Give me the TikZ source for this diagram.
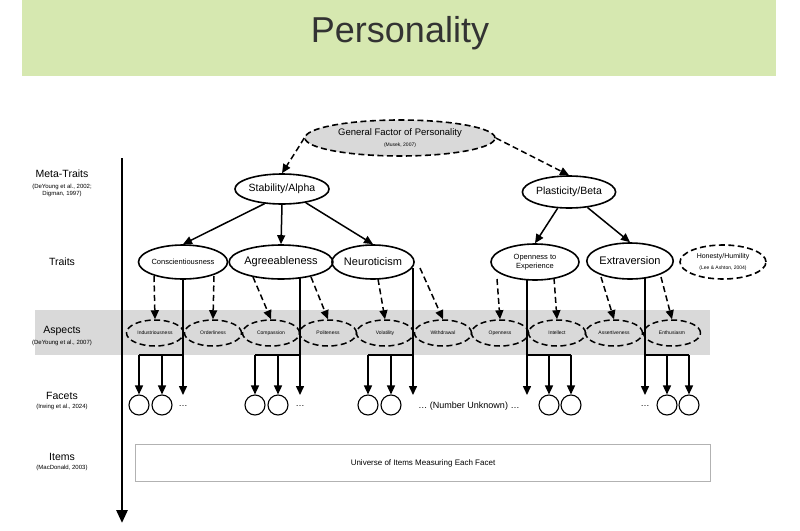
\documentclass[tikz,border=0pt]{standalone}
\usepackage{fontspec}
\setmainfont{Liberation Sans}
\usetikzlibrary{shapes.geometric,arrows.meta}
\begin{document}
\begin{tikzpicture}[x=1pt,y=-1pt,
 el/.style={ellipse,draw,line width=1.6pt,inner sep=0pt,align=center},
 asp/.style={ellipse,draw,line width=1.5pt,dash pattern=on 6pt off 3.5pt,minimum width=57pt,minimum height=26pt,inner sep=0pt,font=\fontsize{5}{6}\selectfont},
 sa/.style={line width=1.5pt,-{Triangle[length=9pt,width=8pt]}},
 da/.style={line width=1.5pt,dash pattern=on 6pt off 3.5pt,-{Triangle[length=9pt,width=8pt]}},
 ln/.style={line width=1.5pt},
 fc/.style={circle,draw,line width=1.1pt,minimum size=20pt,inner sep=0pt},
 lab/.style={align=center,font=\fontsize{10.5}{11}\selectfont},
 sub/.style={align=center,font=\fontsize{6}{7}\selectfont}]
\useasboundingbox (0,0) rectangle (800,530);
\fill[white] (0,0) rectangle (800,530);
\fill[fill={rgb,255:red,214;green,232;blue,176}] (22,0) rectangle (776,76);
\node[text={rgb,255:red,51;green,51;blue,51}] (title) at (400,33) {\fontsize{36}{38}\selectfont Personality};
\fill[gray!30] (35,310) rectangle (710,355);
\draw[line width=0.5pt,gray!60] (135,444) rectangle (710,481);
\node (items) at (423,463) {\fontsize{8}{9}\selectfont Universe of Items Measuring Each Facet};
\coordinate (ax1) at (122,158); \coordinate (ax2) at (122,523);
\draw[line width=2.8pt,-{Triangle[length=13pt,width=11pt]}] (ax1) -- (ax2);
% left labels
\node[lab] (l1) at (62,174) {Meta-Traits};
\node[sub] (l1s) at (62,190) {(DeYoung et al., 2002;\\Digman, 1997)};
\node[lab] (l2) at (62,262) {Traits};
\node[lab] (l3) at (62,331) {Aspects};
\node[sub] (l3s) at (62,343) {(DeYoung et al., 2007)};
\node[lab] (l4) at (62,396) {Facets};
\node[sub] (l4s) at (62,407) {(Irwing et al., 2024)};
\node[lab] (l5) at (62,457) {Items};
\node[sub] (l5s) at (62,468) {(MacDonald, 2003)};
% top
\node[el,dash pattern=on 6pt off 3.5pt,fill=gray!30,minimum width=190pt,minimum height=36pt] (gfp) at (400,138) {\fontsize{9.5}{10}\selectfont General Factor of Personality\\[-1pt]\fontsize{5}{6}\selectfont (Musek, 2007)};
\node[el,minimum width=92pt,minimum height=30pt,font=\fontsize{10.5}{11}\selectfont] (stab) at (282,189) {Stability/Alpha};
\node[el,minimum width=90pt,minimum height=32pt,font=\fontsize{10.5}{11}\selectfont] (plas) at (569,192) {Plasticity/Beta};
\draw[da] (gfp.west) .. controls (300,145) .. (stab.north);
\draw[da] (gfp.east) -- (plas.north);
% traits
\node[el,minimum width=80pt,minimum height=34pt,font=\fontsize{7.5}{8}\selectfont] (con) at (183,262) {Conscientiousness};
\node[el,minimum width=84pt,minimum height=34pt,font=\fontsize{11}{11}\selectfont] (agr) at (281,262) {Agreeableness};
\node[el,minimum width=80pt,minimum height=34pt,font=\fontsize{11}{11}\selectfont] (neu) at (373,262) {Neuroticism};
\node[el,minimum width=88pt,minimum height=36pt,font=\fontsize{7.5}{8.5}\selectfont] (ope) at (535,262) {Openness to\\Experience};
\node[el,minimum width=76pt,minimum height=36pt,font=\fontsize{11}{11}\selectfont] (ext) at (630,261) {Extraversion};
\node[el,dash pattern=on 6pt off 3.5pt,minimum width=86pt,minimum height=34pt] (hon) at (723,262) {\fontsize{7}{8}\selectfont Honesty/Humility\\[-1pt]\fontsize{5}{6}\selectfont (Lee \& Ashton, 2004)};
\draw[sa] (stab.220) -- (con.north);
\draw[sa] (stab.south) -- (agr.north);
\draw[sa] (stab.-30) -- (neu.north);
\draw[sa] (plas.235) -- (ope.north);
\draw[sa] (plas.-40) -- (ext.north);
% aspects
\foreach \n/\t/\x in {a1/Industriousness/155,a2/Orderliness/213,a3/Compassion/271,a4/Politeness/328,a5/Volatility/385,a6/Withdrawal/443,a7/Openness/500,a8/Intellect/557,a9/Assertiveness/614,a10/Enthusiasm/672}
  \node[asp] (\n) at (\x,333) {\t};
\foreach \a/\sx/\sy in {a1/154/276,a2/214/276,a3/253/277,a4/311/277,a5/378/279,a6/420/268,a7/497/279,a8/554/278,a9/601/277,a10/661/277}{
  \coordinate (s\a) at (\sx,\sy);
  \draw[da] (s\a) -- (\a.north);
}
% facets
\foreach \tr/\vx/\vy/\ax/\bx in {con/183/279/139/162,agr/300/277/255/278,neu/413/268/368/391,ope/527/280/549/571,ext/645/277/667/689}{
  \coordinate (\tr top) at (\vx,\vy);
  \coordinate (\tr bot) at (\vx,395);
  \coordinate (\tr ha) at (\ax,355);
  \coordinate (\tr hb) at (\bx,355);
  \node[fc] (\tr fa) at (\ax,405) {};
  \node[fc] (\tr fb) at (\bx,405) {};
  \draw[sa] (\tr top) -- (\tr bot);
  \draw[ln] (\tr ha) -- (\vx,355) (\tr hb) -- (\vx,355);
  \draw[sa] (\tr ha) -- (\tr fa.north);
  \draw[sa] (\tr hb) -- (\tr fb.north);
}
\node (d1) at (183,406) {\fontsize{9}{10}\selectfont\dots};
\node (d2) at (300,406) {\fontsize{9}{10}\selectfont\dots};
\node (d3) at (469,406) {\fontsize{9}{10}\selectfont\dots\ (Number Unknown) \dots};
\node (d5) at (645,406) {\fontsize{9}{10}\selectfont\dots};
\end{tikzpicture}
\end{document}
